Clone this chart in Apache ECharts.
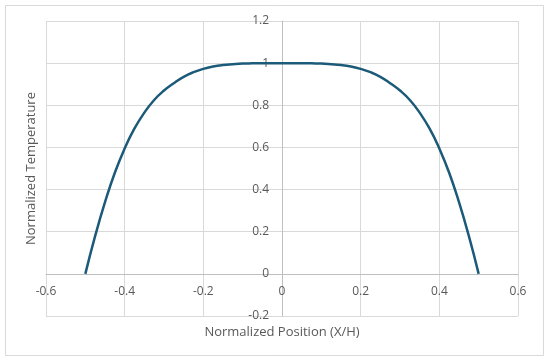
<!DOCTYPE html>
<html>
<head>
<meta charset="utf-8">
<script src="https://cdn.jsdelivr.net/npm/echarts@6/dist/echarts.min.js"></script>
<style>
html,body{margin:0;padding:0;background:#fff;}
#chart{width:550px;height:364px;}
</style>
</head>
<body>
<div id="chart"></div>
<script>
var positions = [-0.5,-0.475,-0.45,-0.425,-0.4,-0.375,-0.35,-0.325,-0.3,-0.275,-0.25,-0.225,-0.2,-0.175,-0.15,-0.125,-0.1,-0.075,-0.05,-0.025,0,
                 0.025,0.05,0.075,0.1,0.125,0.15,0.175,0.2,0.225,0.25,0.275,0.3,0.325,0.35,0.375,0.4,0.425,0.45,0.475,0.5];
var temperatures = [0,0.18,0.34,0.48,0.595,0.69,0.765,0.825,0.87,0.905,0.935,0.957,0.973,0.984,0.991,0.995,0.998,0.999,1.0,1.0,1.0,
                    1.0,1.0,0.999,0.998,0.995,0.991,0.984,0.973,0.957,0.935,0.905,0.87,0.825,0.765,0.69,0.595,0.48,0.34,0.18,0];
var xTicks = {min:-0.6, max:0.6, interval:0.2};
var yTicks = {min:-0.2, max:1.2, interval:0.2};
var xTitle = 'Normalized Position (X/H)';
var yTitle = 'Normalized Temperature';

var data = positions.map(function(x,i){return [x, temperatures[i]];});
function fmt(v){ return String(Math.round(v*10)/10); }

var gridLeft = 46, gridRight = 32, gridTop = 21, gridBottom = 48;
var W = 550, H = 364;
var plotW = W - gridLeft - gridRight, plotH = H - gridTop - gridBottom;
// offsets to put the axis lines through the origin
var yAxisOffset = -plotW * (0 - xTicks.min) / (xTicks.max - xTicks.min);
var xAxisOffset = -plotH * (0 - yTicks.min) / (yTicks.max - yTicks.min);

var chart = echarts.init(document.getElementById('chart'), null, {renderer:'canvas'});
var font = '"Open Sans", Arial, sans-serif';
chart.setOption({
  animation:false,
  backgroundColor:'#fff',
  graphic:[{type:'rect', shape:{x:5.5,y:5.5,width:538,height:350}, style:{fill:'none', stroke:'#d9d9d9', lineWidth:1}, silent:true}],
  grid:{left:gridLeft, right:gridRight, top:gridTop, bottom:gridBottom, containLabel:false, outerBoundsMode:'none'},
  xAxis:{
    type:'value', min:xTicks.min, max:xTicks.max, interval:xTicks.interval,
    position:'bottom', offset:xAxisOffset,
    name:xTitle, nameLocation:'middle', nameGap:52,
    nameTextStyle:{color:'#595959', fontSize:13, fontFamily:font},
    axisLine:{show:true, onZero:false, lineStyle:{color:'#bfbfbf', width:1}},
    axisTick:{show:false},
    axisLabel:{color:'#595959', fontSize:12, fontFamily:font, margin:12, formatter:fmt, showMinLabel:true, showMaxLabel:true},
    splitLine:{show:true, lineStyle:{color:'#d9d9d9', width:1}}
  },
  yAxis:{
    type:'value', min:yTicks.min, max:yTicks.max, interval:yTicks.interval,
    position:'left', offset:yAxisOffset,
    name:yTitle, nameLocation:'middle', nameGap:244,
    nameTextStyle:{color:'#595959', fontSize:13, fontFamily:font},
    axisLine:{show:true, onZero:false, lineStyle:{color:'#bfbfbf', width:1}},
    axisTick:{show:false},
    axisLabel:{color:'#595959', fontSize:12, fontFamily:font, margin:13, formatter:fmt, showMinLabel:true, showMaxLabel:true},
    splitLine:{show:true, lineStyle:{color:'#d9d9d9', width:1}}
  },
  series:[{
    type:'line', data:data, smooth:0.5, showSymbol:false, symbol:'none',
    lineStyle:{color:'#1c5a79', width:2.5}
  }]
});
</script>
</body>
</html>
